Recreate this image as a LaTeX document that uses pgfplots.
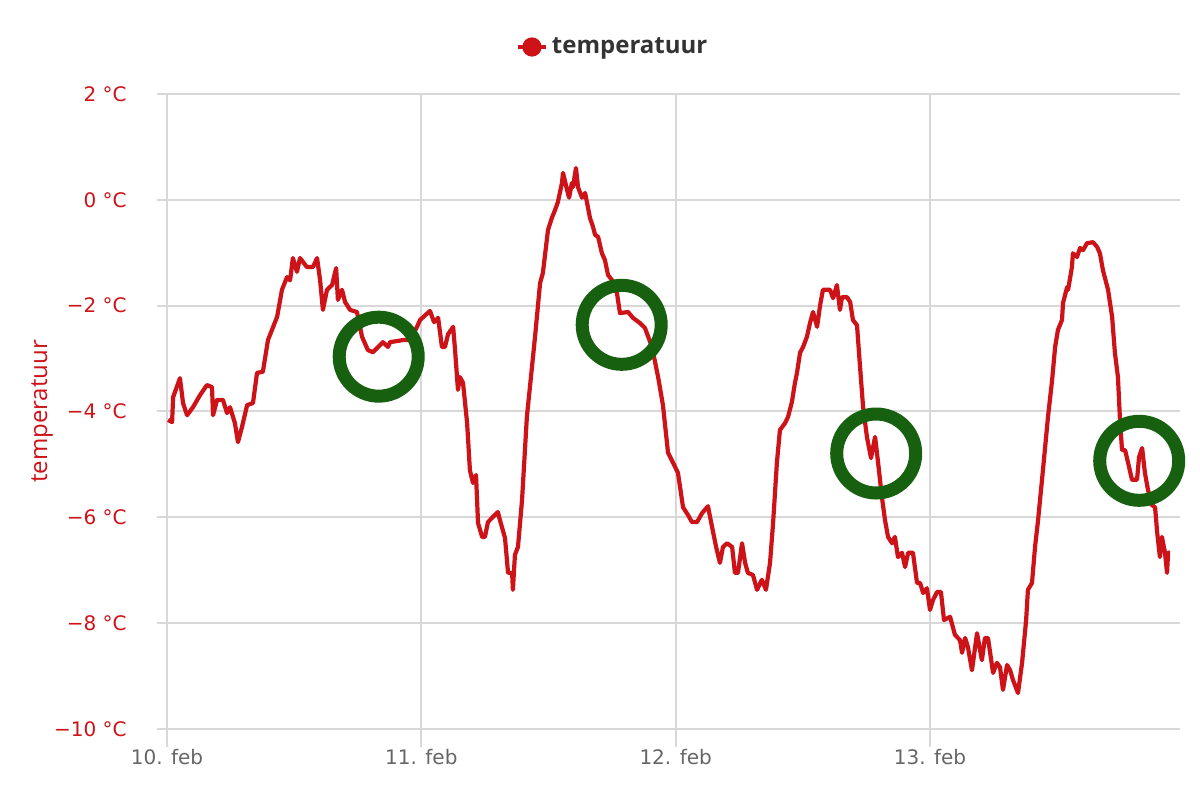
\documentclass[border=0pt]{standalone}
\usepackage{pgfplots}
\pgfplotsset{compat=1.18}
\usepackage{fontspec}
\setmainfont{Open Sans}
\newfontfamily\tickfont{DejaVu Sans}
\definecolor{tred}{RGB}{205,18,24}
\definecolor{tgreen}{RGB}{22,96,16}
\definecolor{gridgray}{RGB}{216,216,216}
\definecolor{labgray}{RGB}{102,102,102}
\begin{document}
\begin{tikzpicture}
\begin{axis}[
  scale only axis,
  width=506.5bp, height=317.5bp,
  at={(83.5bp,35.5bp)}, anchor=south west,
  xmin=0, xmax=3.983, ymin=-10, ymax=2,
  axis line style={draw=none},
  grid=major,
  major grid style={gridgray, line width=1bp},
  major tick length=0pt,
  xtick={0,1,2,3},
  xticklabels={10. feb, 11. feb, 12. feb, 13. feb},
  ytick={-10,-8,-6,-4,-2,0,2},
  yticklabels={−10 °C, −8 °C, −6 °C, −4 °C, −2 °C, 0 °C, 2 °C},
  every x tick label/.style={font=\tickfont\fontsize{10bp}{12bp}\selectfont, text=labgray, anchor=north, inner sep=0pt, yshift=-10bp},
  every y tick label/.style={font=\tickfont\fontsize{10bp}{12bp}\selectfont, text=tred, anchor=east, inner sep=0pt, xshift=-20bp},
  ylabel={temperatuur},
  every axis y label/.style={at={(axis description cs:-0.1234,0.5)}, rotate=90, anchor=center, font=\fontsize{12bp}{14bp}\selectfont, text=tred},
  legend style={draw=none, fill=none, inner sep=0pt, outer sep=0pt, at={(0.3445,1.074)}, anchor=west,
    font=\fontsize{12bp}{14bp}\selectfont\bfseries, text=black!80, legend cell align=left,
    /tikz/every even column/.append style={column sep=7bp}},
  legend image code/.code={
    \draw[tred, line width=2bp] (0bp,0bp) -- (14bp,0bp);
    \fill[tred] (7bp,0bp) circle (3.75bp);
  },
  after end axis/.code={
    \foreach \d in {0,1,2,3} {\draw[gridgray, line width=1bp] (axis cs:\d,-10) -- ++(0,-9bp);}
    \foreach \t in {-10,-8,-6,-4,-2,0,2} {\draw[gridgray, line width=1bp] (axis cs:0,\t) -- ++(-5bp,0);}
  },
]
\addplot[tred, line width=2.1bp, line join=round, no marks] coordinates {
(0.004,-4.16) (0.020,-4.20) (0.024,-3.73) (0.051,-3.37) (0.063,-3.84) (0.079,-4.07)
(0.102,-3.92) (0.130,-3.69) (0.157,-3.50) (0.177,-3.54) (0.181,-4.07) (0.197,-3.78)
(0.220,-3.78) (0.236,-4.03) (0.248,-3.92) (0.267,-4.22) (0.279,-4.58) (0.295,-4.29)
(0.315,-3.88) (0.338,-3.84) (0.354,-3.27) (0.377,-3.25) (0.397,-2.65) (0.433,-2.21)
(0.452,-1.70) (0.472,-1.46) (0.484,-1.52) (0.495,-1.10) (0.511,-1.36) (0.523,-1.10)
(0.550,-1.27) (0.574,-1.27) (0.590,-1.10) (0.602,-1.52) (0.613,-2.08) (0.629,-1.70)
(0.649,-1.61) (0.665,-1.29) (0.672,-1.89) (0.688,-1.70) (0.700,-1.93) (0.720,-2.08)
(0.747,-2.12) (0.767,-2.59) (0.790,-2.84) (0.810,-2.88) (0.830,-2.78) (0.849,-2.69)
(0.869,-2.78) (0.877,-2.69) (0.928,-2.65) (0.955,-2.65) (0.983,-2.40) (0.995,-2.27)
(1.034,-2.10) (1.050,-2.31) (1.066,-2.23) (1.081,-2.78) (1.093,-2.78) (1.105,-2.54)
(1.125,-2.40) (1.132,-2.80) (1.144,-3.59) (1.152,-3.35) (1.164,-3.46) (1.180,-4.22)
(1.191,-5.11) (1.203,-5.35) (1.215,-5.20) (1.223,-6.11) (1.239,-6.37) (1.250,-6.37)
(1.262,-6.09) (1.282,-5.99) (1.301,-5.90) (1.309,-6.05) (1.329,-6.39) (1.341,-7.05)
(1.357,-7.05) (1.360,-7.37) (1.368,-6.71) (1.380,-6.56) (1.396,-5.67) (1.415,-4.10)
(1.435,-3.16) (1.447,-2.59) (1.467,-1.57) (1.478,-1.38) (1.498,-0.57) (1.514,-0.33)
(1.526,-0.19) (1.537,-0.04) (1.553,0.32) (1.557,0.51) (1.573,0.19) (1.581,0.04)
(1.592,0.32) (1.596,0.24) (1.608,0.60) (1.616,0.24) (1.632,0.04) (1.644,0.13)
(1.663,-0.34) (1.675,-0.51) (1.683,-0.66) (1.695,-0.70) (1.710,-1.01) (1.722,-1.14)
(1.734,-1.42) (1.750,-1.52) (1.769,-1.76) (1.781,-2.14) (1.813,-2.12) (1.832,-2.23)
(1.860,-2.33) (1.879,-2.42) (1.907,-2.78) (1.931,-3.35) (1.950,-3.88) (1.970,-4.78)
(1.990,-4.97) (2.009,-5.16) (2.029,-5.81) (2.049,-5.96) (2.064,-6.09) (2.084,-6.09)
(2.104,-5.92) (2.127,-5.79) (2.143,-6.18) (2.159,-6.56) (2.174,-6.86) (2.186,-6.56)
(2.202,-6.49) (2.222,-6.56) (2.233,-7.05) (2.245,-7.05) (2.261,-6.49) (2.273,-6.86)
(2.284,-7.05) (2.304,-7.09) (2.320,-7.37) (2.339,-7.18) (2.355,-7.37) (2.371,-6.86)
(2.383,-6.11) (2.398,-4.97) (2.410,-4.35) (2.430,-4.22) (2.442,-4.10) (2.457,-3.82)
(2.469,-3.46) (2.477,-3.27) (2.489,-2.89) (2.501,-2.78) (2.516,-2.59) (2.528,-2.33)
(2.540,-2.12) (2.556,-2.40) (2.568,-1.99) (2.579,-1.70) (2.607,-1.70) (2.619,-1.86)
(2.634,-1.61) (2.646,-2.08) (2.654,-1.84) (2.674,-1.84) (2.686,-1.93) (2.697,-2.27)
(2.713,-2.37) (2.725,-3.16) (2.737,-3.92) (2.752,-4.48) (2.768,-4.88) (2.784,-4.48)
(2.796,-4.97) (2.811,-5.62) (2.823,-6.05) (2.835,-6.37) (2.851,-6.49) (2.862,-6.37)
(2.874,-6.75) (2.890,-6.67) (2.902,-6.94) (2.914,-6.67) (2.933,-6.67) (2.949,-7.24)
(2.961,-7.24) (2.973,-7.43) (2.988,-7.34) (3.000,-7.75) (3.012,-7.56) (3.028,-7.41)
(3.043,-7.41) (3.055,-7.94) (3.079,-7.88) (3.098,-8.22) (3.118,-8.32) (3.126,-8.56)
(3.138,-8.28) (3.149,-8.45) (3.165,-8.89) (3.185,-8.19) (3.204,-8.70) (3.216,-8.28)
(3.228,-8.28) (3.248,-8.94) (3.263,-8.75) (3.275,-8.83) (3.287,-9.26) (3.303,-8.79)
(3.315,-8.89) (3.326,-9.07) (3.346,-9.32) (3.362,-8.75) (3.378,-7.94) (3.385,-7.37)
(3.401,-7.24) (3.413,-6.56) (3.425,-6.05) (3.444,-5.11) (3.464,-4.10) (3.480,-3.41)
(3.492,-2.78) (3.503,-2.46) (3.519,-2.27) (3.523,-1.95) (3.539,-1.65) (3.543,-1.70)
(3.558,-1.27) (3.562,-1.01) (3.578,-1.08) (3.590,-0.91) (3.602,-0.95) (3.617,-0.82)
(3.641,-0.80) (3.657,-0.89) (3.668,-1.01) (3.680,-1.33) (3.700,-1.70) (3.716,-2.21)
(3.727,-2.89) (3.739,-3.35) (3.747,-4.16) (3.755,-4.73) (3.767,-4.73) (3.779,-4.97)
(3.794,-5.29) (3.814,-5.29) (3.822,-4.86) (3.834,-4.69) (3.845,-5.16) (3.857,-5.48)
(3.873,-5.77) (3.885,-5.81) (3.893,-6.28) (3.904,-6.75) (3.912,-6.37) (3.924,-6.67)
(3.932,-7.05) (3.936,-6.67) (3.944,-6.67)
};
\addlegendentry{temperatuur}
\addplot[only marks, mark=o, mark size=19.75bp, tgreen, line width=6.5bp, forget plot] coordinates {
(0.8324,-2.964) (1.7878,-2.362) (2.7885,-4.794) (3.8226,-4.932)
};
\end{axis}
\pgfresetboundingbox
\path[use as bounding box] (0,0) rectangle (600bp,400bp);
\end{tikzpicture}
\end{document}
